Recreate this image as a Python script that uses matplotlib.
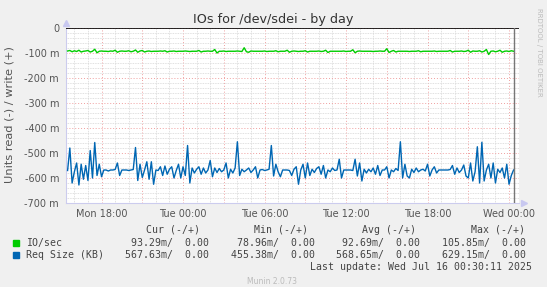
import pandas as pd
import matplotlib
matplotlib.use("Agg")
import matplotlib.pyplot as plt
import matplotlib.dates as mdates
from matplotlib.ticker import MultipleLocator, FuncFormatter
from matplotlib.patches import Rectangle

# ------- DADOS (valores em "m", leitura negativa) -------

inicio = "2025-07-14 15:30"
n_pontos = 198

io_sec = [
    -92, -90, -95, -91, -94, -89, -96, -93, -92, -90,
    -96, -93, -85, -99, -93, -92, -93, -93, -94, -92,
    -93, -89, -97, -93, -92, -93, -93, -91, -95, -93,
    -88, -97, -92, -90, -96, -93, -92, -94, -93, -93,
    -93, -92, -93, -91, -96, -93, -93, -92, -94, -93,
    -93, -93, -92, -93, -94, -93, -93, -93, -90, -96,
    -93, -93, -92, -93, -93, -86, -100, -93, -93, -92,
    -94, -93, -93, -93, -93, -92, -93, -94, -79, -95,
    -97, -92, -93, -93, -93, -93, -93, -92, -94, -93,
    -93, -93, -91, -95, -93, -93, -93, -89, -97, -93,
    -92, -93, -94, -93, -93, -91, -96, -93, -93, -93,
    -93, -92, -94, -93, -89, -98, -93, -93, -93, -93,
    -93, -93, -92, -94, -93, -93, -87, -99, -93, -92,
    -93, -93, -93, -93, -93, -94, -93, -93, -92, -93,
    -93, -83, -98, -93, -90, -96, -93, -93, -93, -93,
    -93, -94, -93, -93, -93, -91, -95, -93, -93, -93,
    -93, -93, -92, -94, -93, -93, -93, -93, -93, -90,
    -96, -93, -93, -93, -92, -94, -93, -89, -97, -92,
    -93, -93, -91, -96, -93, -86, -106, -93, -92, -95,
    -93, -89, -97, -93, -92, -94, -91, -93,
]

req_size = [
    -570, -480, -620, -575, -540, -628, -545, -605, -550, -610,
    -490, -600, -458, -590, -545, -595, -568, -568, -572, -568,
    -568, -566, -540, -590, -568, -568, -568, -570, -568, -566,
    -478, -610, -545, -598, -568, -535, -605, -535, -625, -568,
    -570, -555, -590, -552, -585, -565, -555, -600, -570, -545,
    -600, -555, -590, -470, -620, -560, -580, -565, -555, -585,
    -560, -580, -568, -530, -595, -560, -578, -562, -575, -568,
    -540, -600, -565, -580, -560, -455, -590, -565, -575, -568,
    -560, -578, -568, -555, -600, -568, -566, -570, -568, -565,
    -470, -592, -545, -575, -595, -568, -568, -568, -570, -590,
    -565, -555, -625, -568, -545, -600, -540, -590, -565, -578,
    -562, -555, -585, -550, -600, -568, -575, -560, -570, -568,
    -525, -600, -568, -568, -568, -568, -570, -525, -592, -540,
    -612, -565, -580, -565, -575, -560, -585, -550, -590, -568,
    -568, -555, -600, -568, -575, -562, -570, -455, -600, -545,
    -592, -600, -565, -578, -560, -575, -568, -565, -572, -545,
    -592, -568, -555, -580, -568, -568, -568, -568, -568, -566,
    -550, -585, -560, -578, -568, -548, -592, -600, -540, -612,
    -575, -475, -620, -457, -612, -568, -545, -600, -540, -620,
    -565, -578, -560, -600, -545, -625, -590, -568,
]

cabecalho = ["Cur (-/+)", "Min (-/+)", "Avg (-/+)", "Max (-/+)"]
series = ["IO/sec", "Req Size (KB)"]
valores_io = ["93.29m/  0.00", "78.96m/  0.00", "92.69m/  0.00", "105.85m/  0.00"]
valores_req = ["567.63m/  0.00", "455.38m/  0.00", "568.65m/  0.00", "629.15m/  0.00"]
cores = ["#00CC00", "#0066B3"]

W, H = 547, 287


def fx(px):
    return px / W


def fy(py):
    return 1 - py / H


tempos = pd.date_range(inicio, periods=n_pontos, freq="10min")

fig = plt.figure(figsize=(W / 100, H / 100), dpi=100, facecolor="#F0F0F0")
ax = fig.add_axes([fx(66), fy(203), fx(519) - fx(66), fy(28) - fy(203)])
ax.set_facecolor("white")

ax.plot(tempos, io_sec, color=cores[0], lw=1, zorder=3)
ax.plot(tempos, req_size, color=cores[1], lw=1, zorder=3)
ax.axhline(0, color="black", lw=1.2, zorder=4)
ax.axvline(tempos[-1], color="#777777", lw=1, zorder=4)

ax.set_ylim(-700, 0)
ax.set_xlim(pd.Timestamp("2025-07-14 15:23"), pd.Timestamp("2025-07-16 00:44"))

# grade
ax.yaxis.set_major_locator(MultipleLocator(100))
ax.yaxis.set_minor_locator(MultipleLocator(20))
ax.yaxis.set_major_formatter(FuncFormatter(lambda v, p: "0" if v == 0 else "%d m" % v))
ax.xaxis.set_major_locator(mdates.HourLocator(byhour=range(0, 24, 3)))
ax.xaxis.set_minor_locator(mdates.HourLocator())


def rotulo_x(v, p):
    d = mdates.num2date(v)
    if d.hour % 6 == 0:
        return d.strftime("%a %H:%M")
    return ""


ax.xaxis.set_major_formatter(FuncFormatter(rotulo_x))
ax.grid(which="minor", color="#D6D6D6", ls=(0, (1, 1)), lw=0.6)
ax.grid(which="major", color="#F0A0A0", ls=(0, (1, 2)), lw=0.7)
ax.set_axisbelow(True)

ax.tick_params(which="both", length=0, labelsize=7, labelcolor="#555555")
ax.tick_params(axis="y", pad=5)
ax.tick_params(axis="x", pad=4)
for s in ["top", "right"]:
    ax.spines[s].set_visible(False)
for s in ["left", "bottom"]:
    ax.spines[s].set_color("#CCCCEE")

# setas dos eixos
ax.plot([0], [1.03], marker="^", color="#C8C8F0", ms=4, transform=ax.transAxes, clip_on=False)
ax.plot([1.012], [0], marker=">", color="#C8C8F0", ms=4, transform=ax.transAxes, clip_on=False)

fig.text(0.5, fy(19), "IOs for /dev/sdei - by day", ha="center", va="center",
         fontsize=9.2, color="#333333")
fig.text(fx(10), fy(115), "Units read (-) / write (+)", rotation=90, ha="center",
         va="center", fontsize=8.2, color="#555555")
fig.text(fx(539), fy(52), "RRDTOOL / TOBI OETIKER", rotation=270, ha="center",
         va="center", fontsize=5, color="#BBBBBB")

# legenda
mono = dict(family="DejaVu Sans Mono", fontsize=7.1, color="#444444", va="center")
for txt, xr in zip(cabecalho, [200, 308, 416, 525]):
    fig.text(fx(xr), fy(230), txt, ha="right", **mono)
for k, (nome, vals) in enumerate(zip(series, [valores_io, valores_req])):
    y = 243 + k * 12
    fig.patches.append(Rectangle((fx(13), fy(y + 3)), 6 / W, 6 / H, color=cores[k],
                                 transform=fig.transFigure, figure=fig))
    fig.text(fx(26), fy(y), nome, ha="left", **mono)
    for v, xr in zip(vals, [209, 315, 420, 526]):
        fig.text(fx(xr), fy(y), v, ha="right", **mono)
fig.text(fx(532), fy(267), "Last update: Wed Jul 16 00:30:11 2025", ha="right", **mono)
fig.text(fx(272), fy(281), "Munin 2.0.73", ha="center", va="center", fontsize=5.5,
         color="#BBBBBB")

fig.savefig("out.png", dpi=100, facecolor=fig.get_facecolor())
